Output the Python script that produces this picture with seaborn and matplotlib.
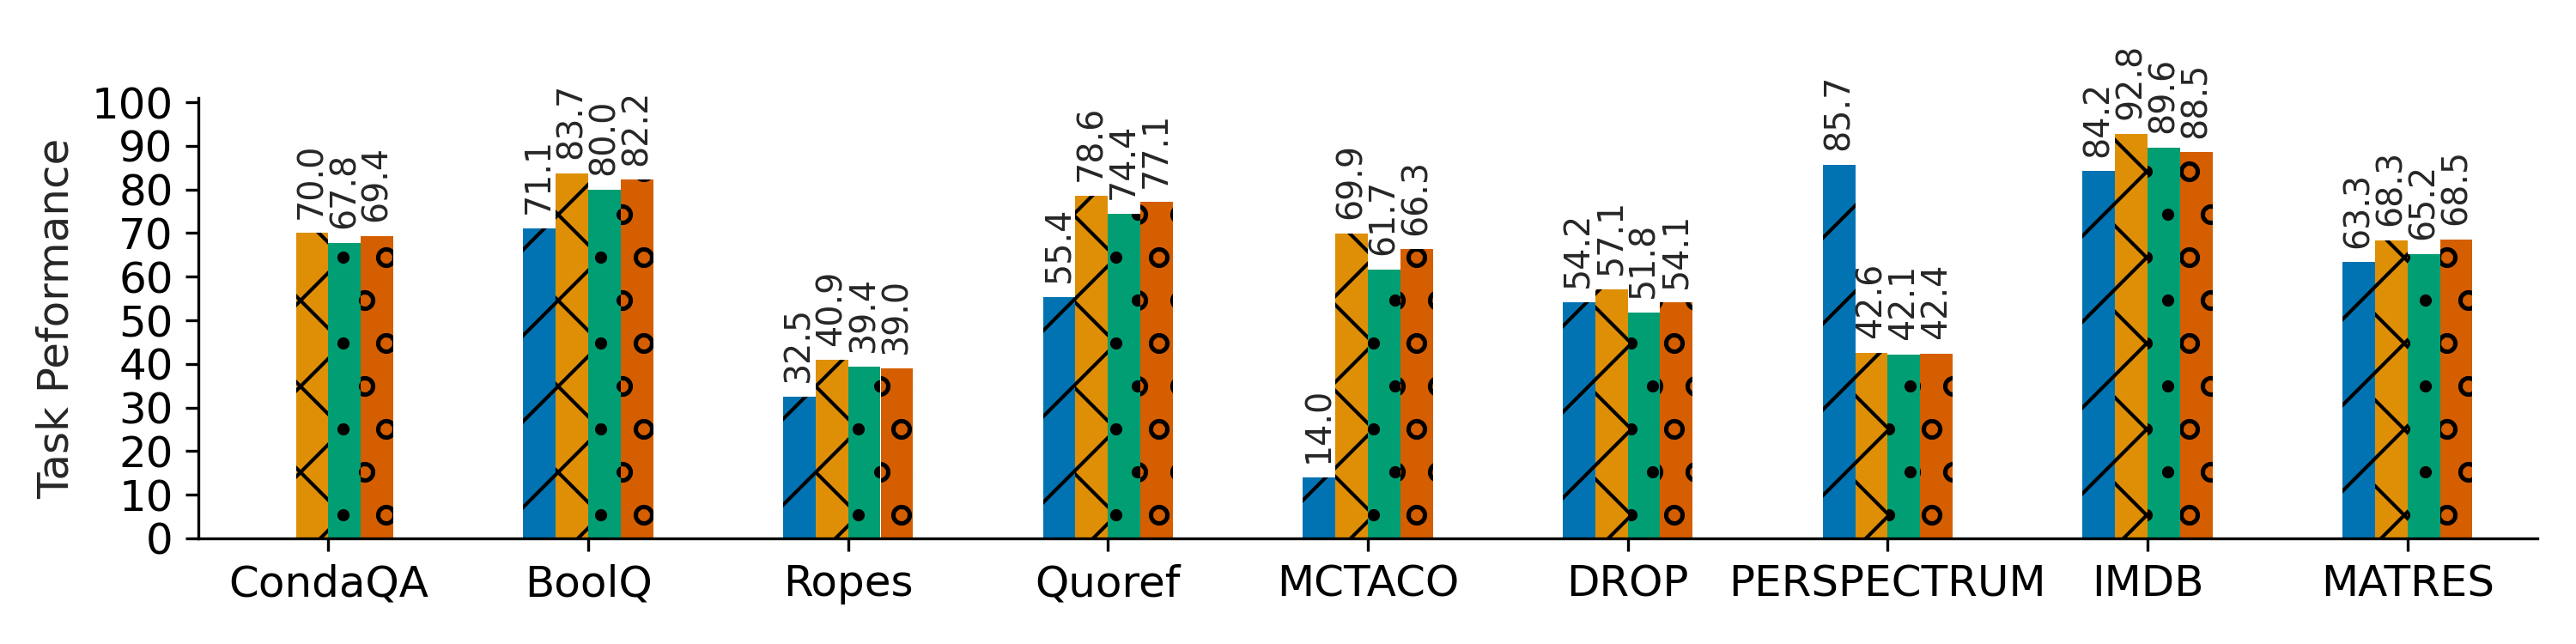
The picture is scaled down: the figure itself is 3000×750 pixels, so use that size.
import matplotlib
matplotlib.use("Agg")
import matplotlib.pyplot as plt
import numpy as np
import pandas as pd
import seaborn as sns

TASKS = ["CondaQA", "BoolQ", "Ropes", "Quoref", "MCTACO", "DROP", "PERSPECTRUM", "IMDB", "MATRES"]
MODELS = ["Model 1", "Model 2", "Model 3", "Model 4"]
SCORES_1 = [np.nan, 71.1, 32.5, 55.4, 14.0, 54.2, 85.7, 84.2, 63.3]
SCORES_2 = [70.0, 83.7, 40.9, 78.6, 69.9, 57.1, 42.6, 92.8, 68.3]
SCORES_3 = [67.8, 80.0, 39.4, 74.4, 61.7, 51.8, 42.1, 89.6, 65.2]
SCORES_4 = [69.4, 82.2, 39.0, 77.1, 66.3, 54.1, 42.4, 88.5, 68.5]
HATCHES = ["/", "x", ".", "o"]
Y_TICKS = list(range(0, 101, 10))


def main() -> None:
    rows = []
    for model, scores in zip(MODELS, [SCORES_1, SCORES_2, SCORES_3, SCORES_4]):
        for task, score in zip(TASKS, scores):
            rows.append({"task": task, "model": model, "score": score})
    df = pd.DataFrame(rows)

    sns.set_style("ticks")
    plt.rcParams["font.family"] = ["DejaVu Sans"]
    plt.rcParams["hatch.color"] = "black"

    fig, ax = plt.subplots(figsize=(10, 2.5), dpi=300)
    sns.barplot(
        data=df,
        x="task",
        y="score",
        hue="model",
        order=TASKS,
        hue_order=MODELS,
        palette="colorblind",
        saturation=1,
        width=0.5,
        legend=False,
        ax=ax,
    )

    for container, hatch in zip(ax.containers, HATCHES):
        for bar in container:
            # black edge colour carries the hatch colour, zero width hides the outline
            bar.set_edgecolor("black")
            bar.set_linewidth(0)
            bar.set_hatch(hatch)
        ax.bar_label(container, fmt="%.1f", rotation=90, padding=4, fontsize=9.5)

    ax.set_xlim(-0.5, len(TASKS) - 0.5)
    ax.set_ylim(0, 101)
    ax.set_yticks(Y_TICKS)
    ax.set_xlabel("")
    ax.set_ylabel("Task Peformance", fontsize=12)
    ax.tick_params(axis="both", labelsize=12, colors="black")
    for spine in ax.spines.values():
        spine.set_color("black")
    sns.despine(ax=ax)

    fig.subplots_adjust(left=0.077, right=0.985, bottom=0.164, top=0.848)
    fig.savefig("out.png", dpi=300)
    plt.close(fig)


if __name__ == "__main__":
    main()
